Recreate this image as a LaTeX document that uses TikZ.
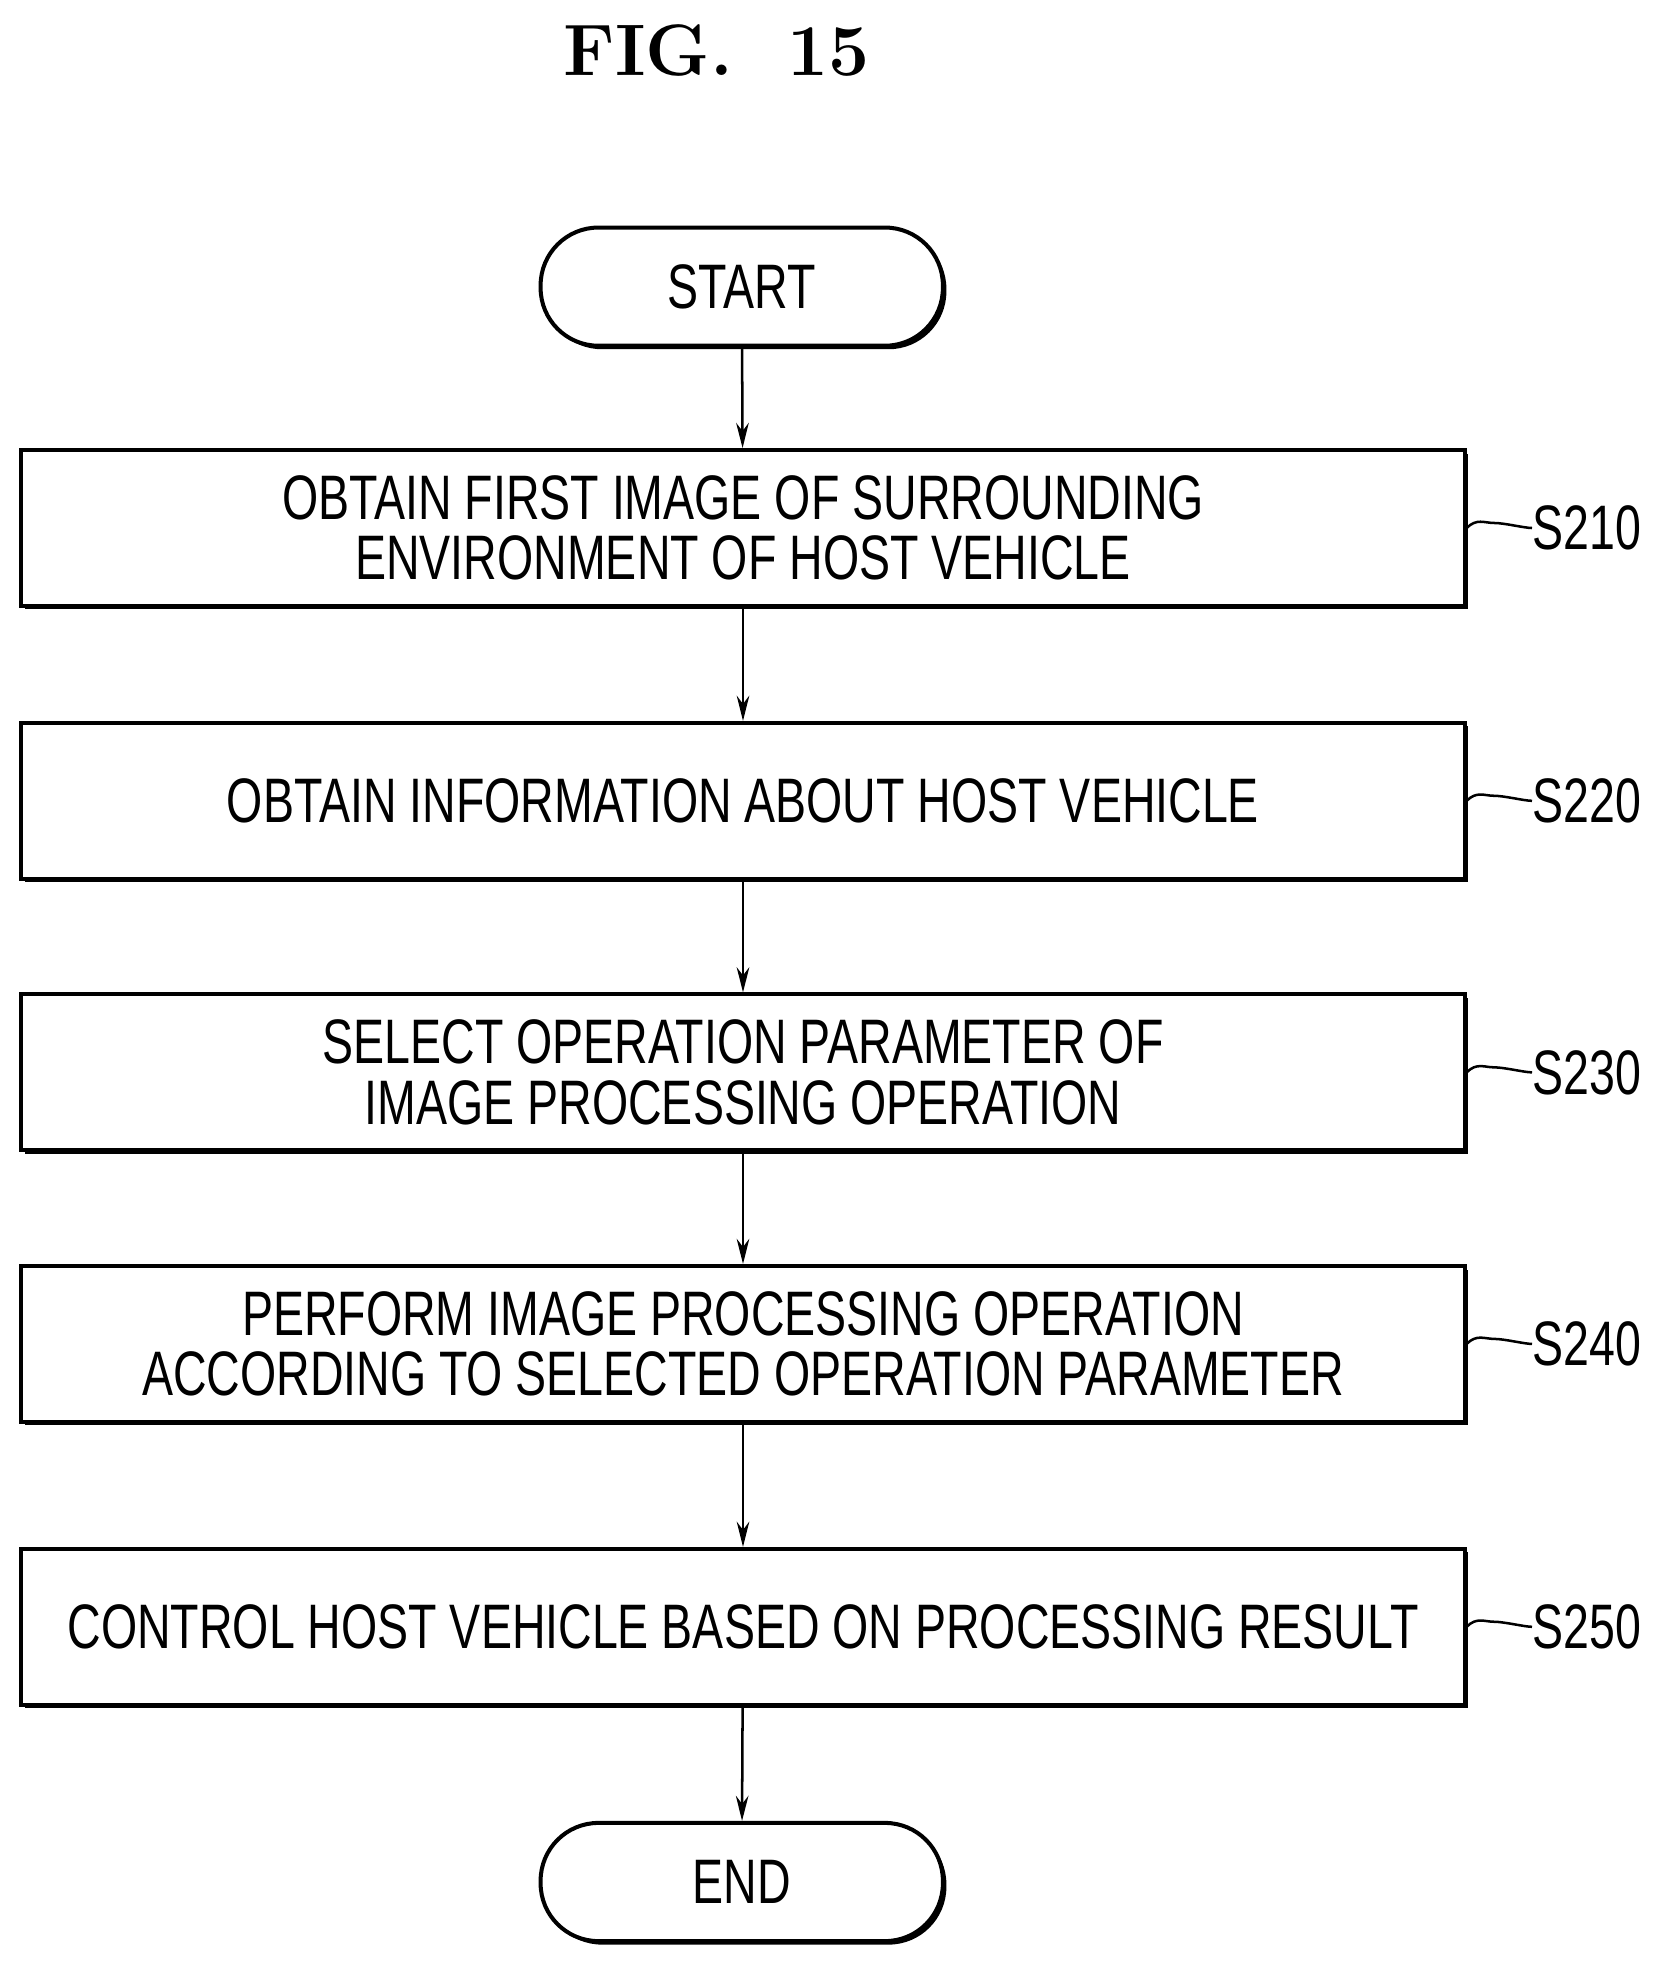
\documentclass[tikz,border=0pt]{standalone}
\usepackage{fontspec}
\usepackage{graphicx}
\newfontfamily\flowfont{Liberation Sans}
\usetikzlibrary{shadows,arrows.meta}
\newcommand{\nar}[1]{\scalebox{0.74}[1]{#1}}
\tikzset{
  procbox/.style={draw, line width=1.6pt, fill=white, minimum width=574pt, minimum height=62pt,
    align=center, font=\flowfont\fontsize{25}{24}\selectfont,
    drop shadow={shadow xshift=1.4pt, shadow yshift=-1.4pt, fill=black, opacity=1}},
  term/.style={procbox, minimum width=160pt, minimum height=47pt, rounded corners=23pt},
  flow/.style={line width=1pt, -{Stealth[length=10pt,width=5pt]}},
  tag/.style={anchor=west, inner sep=0pt, font=\flowfont\fontsize{25}{24}\selectfont}
}
\begin{document}
\begin{tikzpicture}[x=0.5pt,y=-0.5pt]
\useasboundingbox (0,0) rectangle (1320,1567);

\node (title) at (570,40) {\fontsize{29}{30}\selectfont\bfseries FIG.~~15};

\node[term] (start) at (590,228) {\nar{START}};
\node[procbox] (s210) at (591,420) {\nar{OBTAIN FIRST IMAGE OF SURROUNDING}\\\nar{ENVIRONMENT OF HOST VEHICLE}};
\node[procbox] (s220) at (591,637) {\nar{OBTAIN INFORMATION ABOUT HOST VEHICLE}};
\node[procbox] (s230) at (591,853) {\nar{SELECT OPERATION PARAMETER OF}\\\nar{IMAGE PROCESSING OPERATION}};
\node[procbox] (s240) at (591,1069) {\nar{PERFORM IMAGE PROCESSING OPERATION}\\\nar{ACCORDING TO SELECTED OPERATION PARAMETER}};
\node[procbox] (s250) at (591,1294) {\nar{CONTROL HOST VEHICLE BASED ON PROCESSING RESULT}};
\node[term] (end) at (590,1497) {\nar{END}};

\draw[flow] (start) -- (s210);
\draw[flow] (s210) -- (s220);
\draw[flow] (s220) -- (s230);
\draw[flow] (s230) -- (s240);
\draw[flow] (s240) -- (s250);
\draw[flow] (s250) -- (end);

% step labels
\foreach \s/\t in {s210/S210,s220/S220,s230/S230,s240/S240,s250/S250}{
  \node[tag] (l\s) at ([xshift=26pt]\s.east) {\nar{\t}};
  \draw[line width=1pt] (\s.east) .. controls +(8,-8) and +(-8,0) .. +(22,-4)
    .. controls +(8,0) and +(-6,0) .. (l\s.west);
}
\end{tikzpicture}
\end{document}
